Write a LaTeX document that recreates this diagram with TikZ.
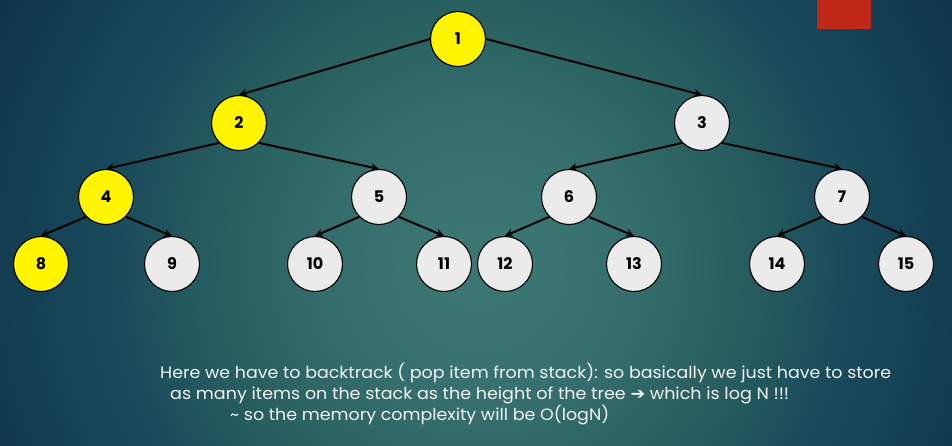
\documentclass[tikz,border=0pt]{standalone}
\usepackage{fontspec}
\setmainfont{Poppins}
\newfontfamily\arrowfont{DejaVu Sans}
\usetikzlibrary{arrows.meta}
\definecolor{bgc0}{HTML}{3D7873}
\definecolor{bgc1}{HTML}{387270}
\definecolor{bgc2}{HTML}{2A6160}
\definecolor{bgc3}{HTML}{18485A}
\definecolor{bgc4}{HTML}{0F3349}
\definecolor{nodeyellow}{HTML}{FFF500}
\definecolor{nodegray}{HTML}{EBEBEB}
\definecolor{redbox}{HTML}{C0281A}
\definecolor{txtcol}{HTML}{F2F2F2}
\pgfdeclareradialshading{bgshade}{\pgfpoint{0bp}{0bp}}{color(0bp)=(bgc0); color(10bp)=(bgc1); color(22bp)=(bgc2); color(34bp)=(bgc3); color(50bp)=(bgc4)}
\begin{document}
\begin{tikzpicture}[x=1pt,y=-1pt,
  treenode/.style={circle,draw=black,line width=1.1pt,minimum size=55pt,inner sep=0pt,font=\bfseries\fontsize{16}{19}\selectfont},
  hot/.style={treenode,fill=nodeyellow},
  cold/.style={treenode,fill=nodegray},
  link/.style={draw=black,line width=2pt,-{Stealth[length=8pt,width=8pt]}},
  txt/.style={text=txtcol,inner sep=0pt,anchor=base west,font=\fontsize{16.5}{19}\selectfont}]
\useasboundingbox (0,0) rectangle (952,445);
\begin{scope}
  \clip (0,0) rectangle (952,445);
  \fill[bgc4] (0,0) rectangle (952,445);
  \node[inner sep=0pt] (bg) at (480,265) {\scalebox{11.2}{\pgfuseshading{bgshade}}};
\end{scope}
\fill[redbox] (817,0) rectangle (871,29);
\node[hot] (n1) at (458,39) {1};
\node[hot] (n2) at (239,123) {2};
\node[cold] (n3) at (702,123) {3};
\node[hot] (n4) at (106,197) {4};
\node[cold] (n5) at (379,197) {5};
\node[cold] (n6) at (569,197) {6};
\node[cold] (n7) at (842,197) {7};
\node[hot] (n8) at (41,264) {8};
\node[cold] (n9) at (172,264) {9};
\node[cold] (n10) at (315,264) {10};
\node[cold] (n11) at (444,264) {11};
\node[cold] (n12) at (505,264) {12};
\node[cold] (n13) at (634,264) {13};
\node[cold] (n14) at (777,264) {14};
\node[cold] (n15) at (906,264) {15};
\draw[link] (n1.west) -- (n2.north);
\draw[link] (n1.east) -- (n3.north);
\draw[link] (n2.225) -- (n4.north);
\draw[link] (n2.-45) -- (n5.north);
\draw[link] (n3.225) -- (n6.north);
\draw[link] (n3.-45) -- (n7.north);
\draw[link] (n4.225) -- (n8.north);
\draw[link] (n4.-45) -- (n9.north);
\draw[link] (n5.225) -- (n10.north);
\draw[link] (n5.-45) -- (n11.north);
\draw[link] (n6.225) -- (n12.north);
\draw[link] (n6.-45) -- (n13.north);
\draw[link] (n7.225) -- (n14.north);
\draw[link] (n7.-45) -- (n15.north);
\node[txt] (t1) at (160,378) {\resizebox{731pt}{\height}{Here we have to backtrack ( pop item from stack): so basically we just have to store}};
\node[txt] (t2) at (170,399) {\resizebox{619pt}{\height}{as many items on the stack as the height of the tree {\arrowfont ➔} which is log N !!!}};
\node[txt] (t3) at (230,420) {\resizebox{379pt}{\height}{\textasciitilde{} so the memory complexity will be O(logN)}};
\end{tikzpicture}
\end{document}
